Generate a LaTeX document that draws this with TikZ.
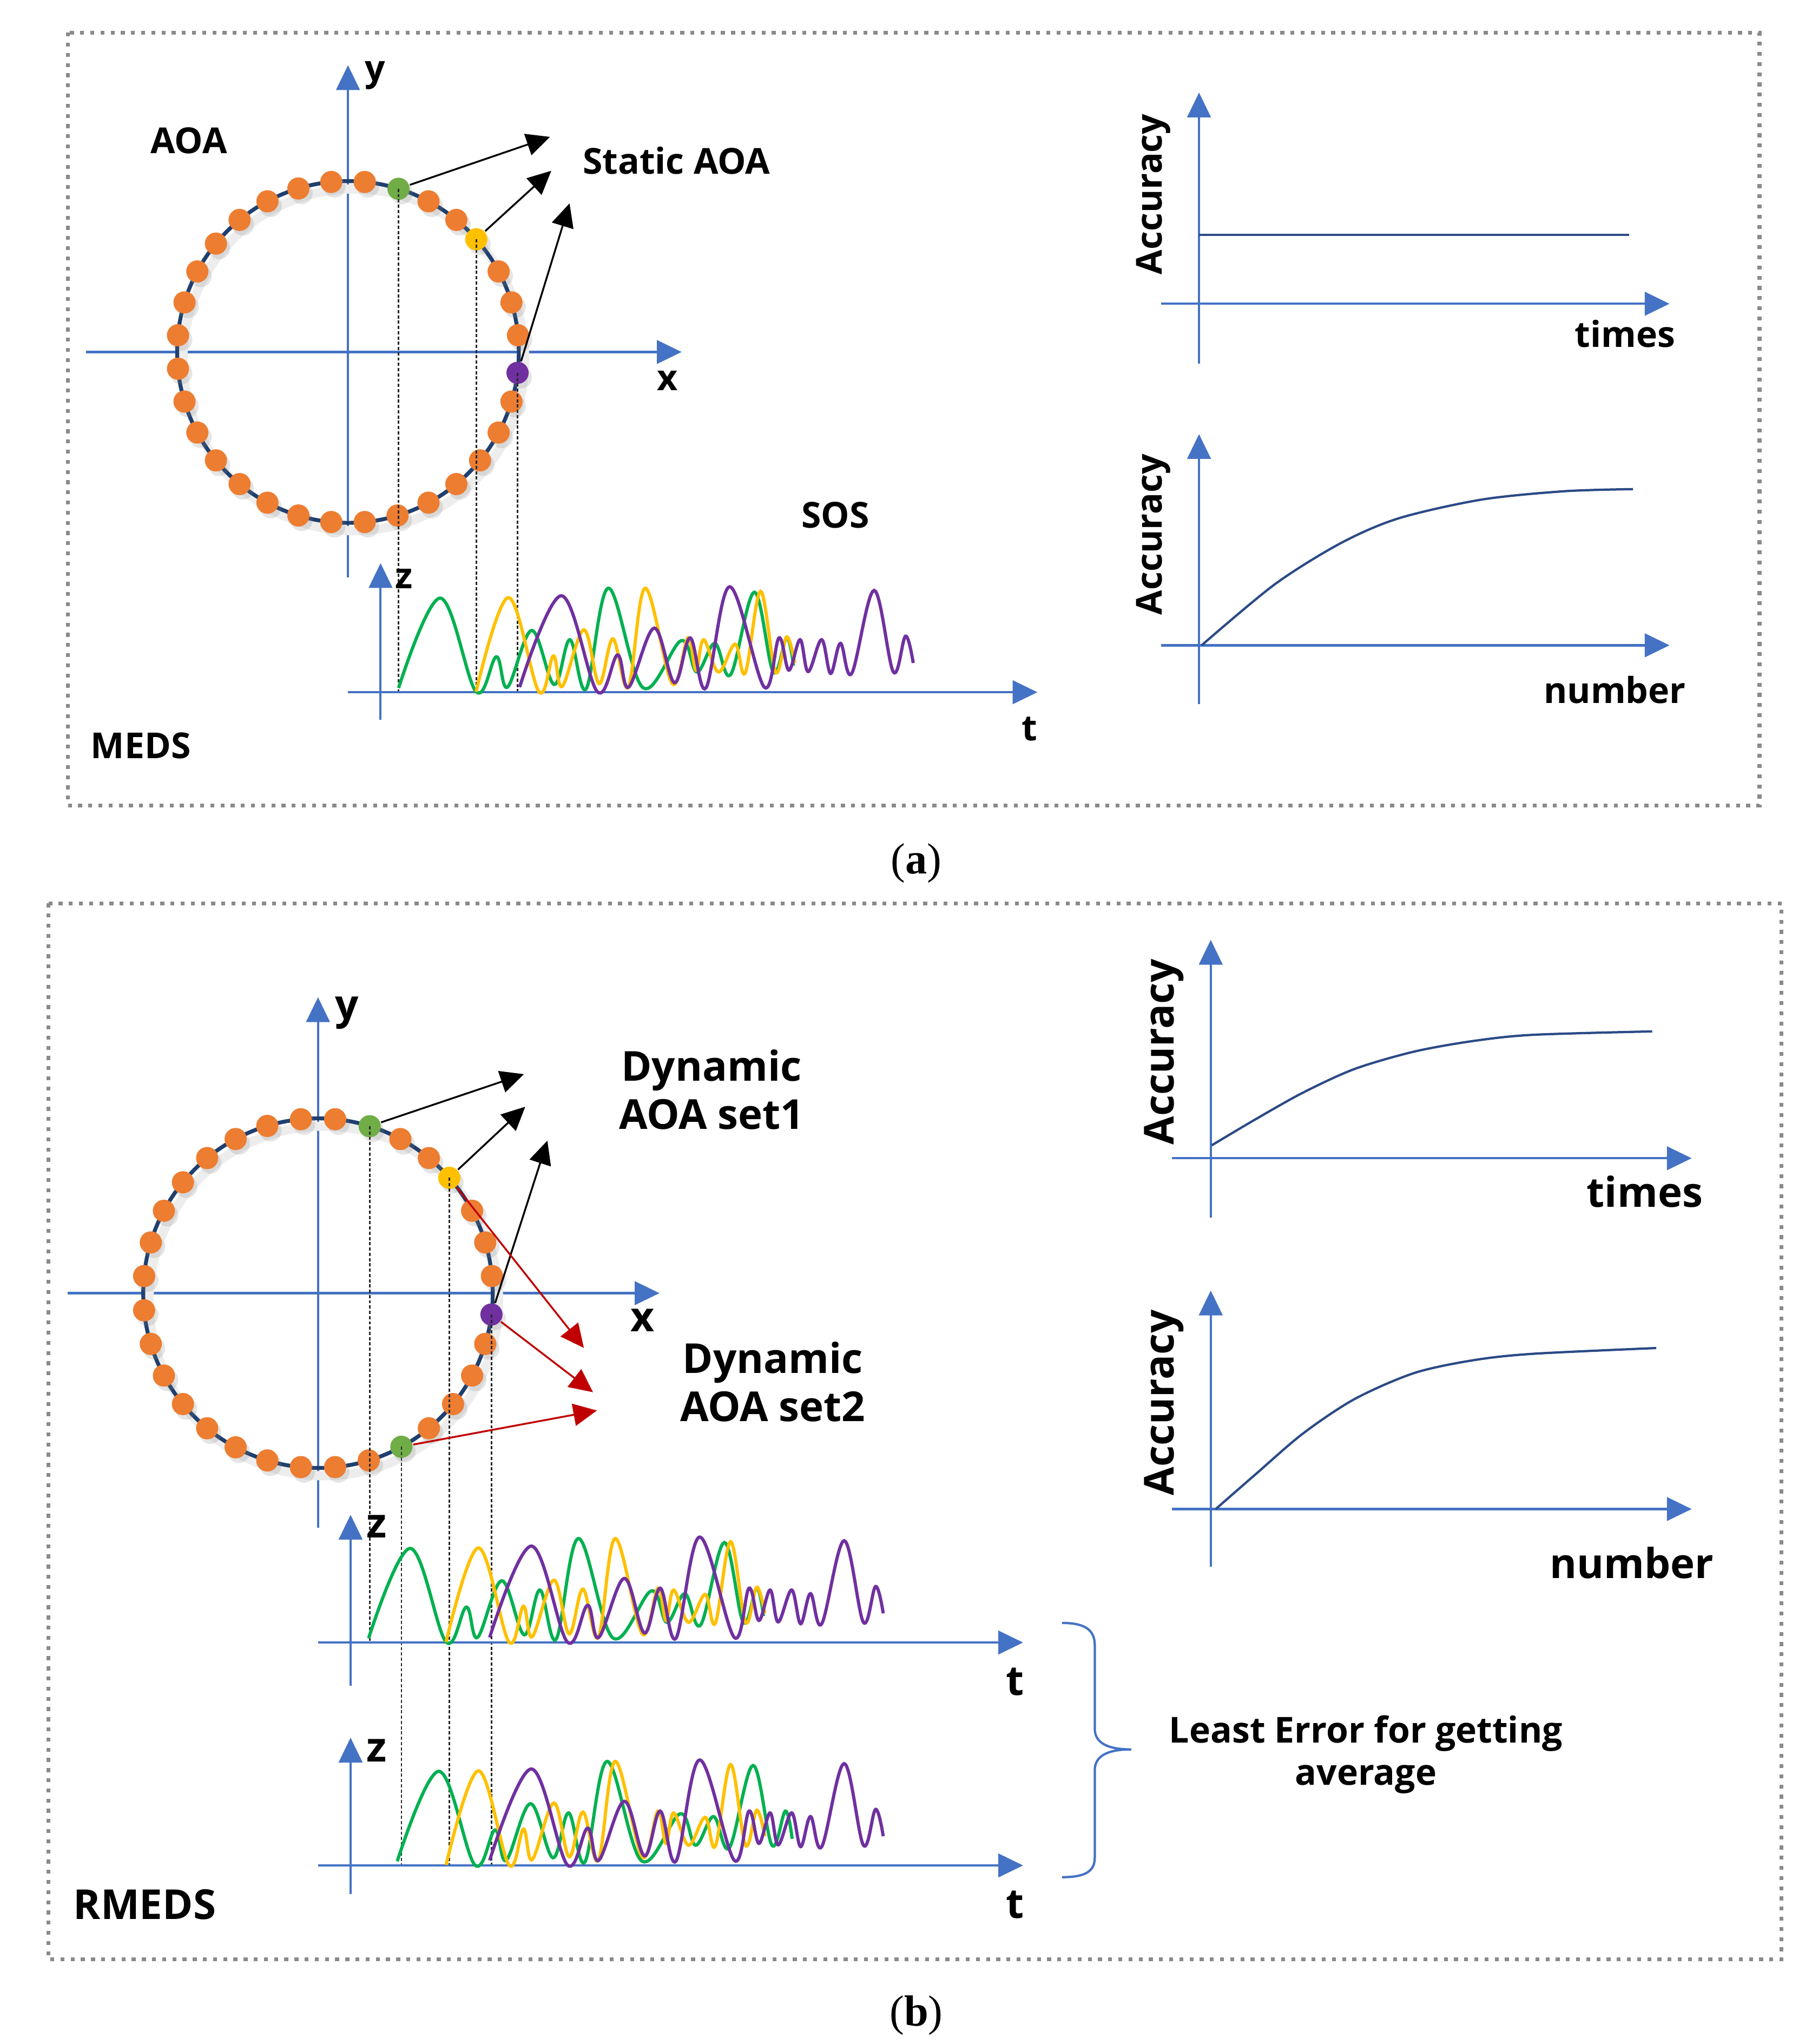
\documentclass[tikz,border=0pt]{standalone}
\usepackage{fontspec}
\setmainfont{Open Sans}
\newfontfamily\capfont{Liberation Serif}
\usetikzlibrary{arrows.meta,shadows}

\definecolor{axisblue}{HTML}{4472C4}
\definecolor{ringnavy}{HTML}{1F3F6E}
\definecolor{accnavy}{HTML}{2B4A86}
\definecolor{dotorange}{HTML}{ED7D31}
\definecolor{dotgreen}{HTML}{70AD47}
\definecolor{dotyellow}{HTML}{FFC000}
\definecolor{dotpurple}{HTML}{7030A0}
\definecolor{wgreen}{HTML}{00B050}
\definecolor{wyellow}{HTML}{FFC000}
\definecolor{wpurple}{HTML}{7030A0}
\definecolor{arrowred}{HTML}{C00000}
\definecolor{bordergray}{HTML}{8A8A8A}

\tikzset{
  axis/.style={draw=axisblue, line width=0.5pt, -{Triangle[length=1.9mm,width=1.8mm]}},
  ring/.style={draw=ringnavy, line width=0.85pt},
  ringshadow/.style={draw=black!7, line width=0.7mm},
  dot/.style={circle, inner sep=0pt, minimum size=1.7mm, draw=none,
    drop shadow={shadow xshift=0.25mm, shadow yshift=-0.35mm, opacity=0.2}},
  drop/.style={draw=black!85, line width=0.3pt, dash pattern=on 0.7pt off 0.45pt},
  aoaarrow/.style={draw=black, line width=0.4pt, -{Triangle[length=1.8mm,width=1.7mm]}},
  redarrow/.style={aoaarrow, draw=arrowred},
  wave/.style={line width=0.7pt},
  accline/.style={draw=accnavy, line width=0.5pt},
  panel/.style={draw=bordergray, line width=0.3mm, dash pattern=on 0.3mm off 0.48mm},
  lbl/.style={font=\bfseries\fontsize{7.8}{9}\selectfont, inner sep=0pt},
  lblb/.style={font=\bfseries\fontsize{9}{10.5}\selectfont, inner sep=0pt, align=center},
  subcap/.style={font=\capfont\fontsize{9.5}{11}\selectfont, inner sep=0pt},
  brace/.style={draw=axisblue, line width=0.5pt}
}

% ring of AOA dots: centre, radius, skipped dots, name prefix
\newcommand{\aoaring}[4]{%
  \draw[ringshadow] ([shift={(0.45mm,-0.6mm)}]#1) circle (#2);
  \draw[ring] (#1) circle (#2);
  \foreach \k in {0,...,31}{%
    \gdef\skipdot{0}%
    \foreach \s in {#3}{\ifnum\k=\s\relax\gdef\skipdot{1}\fi}%
    \ifnum\skipdot=0\relax
      \node[dot,fill=dotorange] (#4-\k) at ([shift={(5.625+11.25*\k:#2)}]#1) {};
    \fi}}

% three SOS waves: origin, shift of the green one
\newcommand{\soswaves}[2]{%
  \begin{scope}[shift={#1}]
    \draw[wave,wgreen,xshift=#2] plot[smooth,tension=.6] coordinates {
      (13.8,-3.2) (45.8,-72.2) (73.3,-0.4) (88.8,-27.2) (97.4,-3.9) (116,-47.4)
      (133.2,-5.9) (145.3,-40.3) (157.7,-2.5) (174.9,-79.8) (201.4,-3.4)
      (230.7,-39.6) (242.7,-15.5) (256.5,-37.5) (268.6,-13.5) (286.8,-76.7)
      (301.3,-15.5) (311.6,-41.7) (316.8,-20.4)};
    \draw[wave,wyellow] plot[smooth,tension=.6] coordinates {
      (73.3,-0.4) (98.1,-72.6) (121.5,-0.4) (132.6,-27.9) (139.4,-4.5) (156,-47.9)
      (167.7,-6.6) (178.3,-41) (190.1,-3.9) (203.1,-79.8) (223.8,-6.6)
      (235.8,-41.7) (242,-16.9) (247.9,-40.3) (259.3,-15.5) (272,-36.9)
      (279.9,-14.9) (291.6,-77.4) (303,-15.5) (311.6,-42.4) (317.8,-22.4)};
    \draw[wave,wpurple] plot[smooth,tension=.6] coordinates {
      (106.7,-3.9) (138.8,-74) (166.3,-0.4) (181.8,-28.6) (190.4,-3.9) (210,-49.2)
      (225.5,-7.3) (237.6,-41.7) (249.6,-3.2) (267.9,-80.9) (294.4,-3.9)
      (305.7,-41.7) (313.3,-16.9) (321.9,-40.3) (328.1,-15.8) (338.4,-40.3)
      (345.3,-14.4) (352.9,-37.5) (361.5,-14.4) (378.7,-78.1) (393.5,-15.5)
      (402.8,-43) (408.7,-22.4)};
  \end{scope}}

\begin{document}
\begin{tikzpicture}[x=0.01cm, y=-0.01cm]
  \fill[white] (0,0) rectangle (1390,1568);
  \useasboundingbox (0,0) rectangle (1390,1568);

  %%%%% (a) MEDS %%%%%
  \draw[panel] (52,25) rectangle (1350,618);
  \node[subcap] (capa) at (703,662) {(\textbf{a})};

  % AOA circle
  \coordinate (c1) at (267,270);
  \coordinate (o1) at (292,531);
  \draw[axis] (267,443) -- (267,50);
  \draw[axis] (66,270) -- (523,270);
  \node[lbl] (ya) at (288,58) {y};
  \node[lbl] (xa) at (512,292) {x};
  \aoaring{c1}{13.1mm}{3,6,31}{a}
  \node[dot,fill=dotgreen] (ag) at ([shift={(72.8:13.1mm)}]c1) {};
  \node[dot,fill=dotyellow] (ay) at ([shift={(41.3:13.1mm)}]c1) {};
  \node[dot,fill=dotpurple] (ap) at ([shift={(-7:13.1mm)}]c1) {};
  \draw[drop] (ag.center) -- (ag.center |- o1);
  \draw[drop] (ay.center) -- (ay.center |- o1);
  \draw[drop] (ap.center) -- (ap.center |- o1);

  \coordinate (agtip) at (422,105);
  \coordinate (aytip) at (423,131);
  \coordinate (aptip) at (437,156);
  \draw[aoaarrow] (ag) -- (agtip);
  \draw[aoaarrow] (ay) -- (aytip);
  \draw[aoaarrow] (ap) -- (aptip);
  \node[lbl] (aoa) at (145,108) {AOA};
  \node[lbl] (static) at (519,123) {Static AOA};

  % SOS
  \draw[axis] (267,531) -- (796,531);
  \draw[axis] (292,552) -- (292,432);
  \node[lbl] (za) at (310,444) {z};
  \node[lbl] (ta) at (790,559) {t};
  \soswaves{(o1)}{0mm}
  \node[lbl] (sos) at (641,395) {SOS};
  \node[lbl] (meds) at (108,572) {MEDS};

  % accuracy over times
  \draw[axis] (920,279) -- (920,71);
  \draw[axis] (891,233) -- (1281,233);
  \draw[accline] (920,180) -- (1250,180);
  \node[lbl,rotate=90] (acca1) at (885,149) {Accuracy};
  \node[lbl] (timesa) at (1247,256) {times};

  % accuracy over number
  \draw[axis] (920,540) -- (920,333);
  \draw[axis] (891,495) -- (1281,495);
  \draw[accline] plot[smooth] coordinates {(922,495) (978,448.3) (1029,416.5)
    (1073.5,397.5) (1137,383.2) (1200.6,376.8) (1253,375.2)};
  \node[lbl,rotate=90] (acca2) at (885,410) {Accuracy};
  \node[lbl] (numbera) at (1239,529) {number};

  %%%%% (b) RMEDS %%%%%
  \draw[panel] (37,693) rectangle (1367,1503);
  \node[subcap] (capb) at (703,1546) {(\textbf{b})};

  % AOA circle
  \coordinate (c2) at (244,992);
  \coordinate (o2) at (269,1260);
  \coordinate (o3) at (269,1431);
  \draw[axis] (244,1172) -- (244,765);
  \draw[axis] (52,992) -- (506,992);
  \node[lblb] (yb) at (266,777) {y};
  \node[lblb] (xb) at (493,1013) {x};
  \aoaring{c2}{13.4mm}{3,6,26,31}{b}
  \node[dot,fill=dotgreen] (bg) at ([shift={(72.8:13.4mm)}]c2) {};
  \node[dot,fill=dotyellow] (by) at ([shift={(41.3:13.4mm)}]c2) {};
  \node[dot,fill=dotpurple] (bp) at ([shift={(-7:13.4mm)}]c2) {};
  \node[dot,fill=dotgreen] (bl) at ([shift={(-61.5:13.4mm)}]c2) {};
  \draw[drop] (bg.center) -- (bg.center |- o2);
  \draw[drop] (by.center) -- (by.center |- o3);
  \draw[drop] (bp.center) -- (bp.center |- o3);
  \draw[drop] (bl.center) -- (bl.center |- o3);

  \coordinate (bgtip) at (402,824);
  \coordinate (bytip) at (403,849);
  \coordinate (bptip) at (420,875);
  \draw[aoaarrow] (bg) -- (bgtip);
  \draw[aoaarrow] (by) -- (bytip);
  \draw[aoaarrow] (bp) -- (bptip);
  \coordinate (byred) at (448,1034);
  \coordinate (bpred) at (455,1068);
  \coordinate (blred) at (458,1082);
  \draw[redarrow] (by) -- (byred);
  \draw[redarrow] (bp) -- (bpred);
  \draw[redarrow] (bl) -- (blred);
  \node[lblb] (dyn1) at (546,836) {Dynamic\\AOA set1};
  \node[lblb] (dyn2) at (593,1060) {Dynamic\\AOA set2};

  % SOS, two runs
  \draw[axis] (244,1260) -- (785,1260);
  \draw[axis] (269,1293) -- (269,1162);
  \node[lblb] (zb1) at (289,1171) {z};
  \node[lblb] (tb1) at (779,1290) {t};
  \soswaves{(o2)}{0mm}
  \draw[axis] (244,1431) -- (785,1431);
  \draw[axis] (269,1453) -- (269,1333);
  \node[lblb] (zb2) at (289,1343) {z};
  \node[lblb] (tb2) at (779,1461) {t};
  \soswaves{(o3)}{2.2mm}
  \node[lblb] (rmeds) at (111,1461) {RMEDS};

  % brace and average
  \draw[brace] (815,1245) .. controls (832,1245) and (840,1250) .. (840,1262)
    -- (840,1326) .. controls (840,1336) and (848,1342) .. (868,1342)
    .. controls (848,1342) and (840,1348) .. (840,1358)
    -- (840,1425) .. controls (840,1436) and (832,1440) .. (815,1440);
  \node[lblb,font=\bfseries\fontsize{7.8}{9.2}\selectfont] (least) at (1048,1346)
    {Least Error for getting\\average};

  % accuracy over times
  \draw[axis] (929,934) -- (929,721);
  \draw[axis] (899,888.5) -- (1298,888.5);
  \draw[accline] plot[smooth] coordinates {(929.7,878.6) (963.2,858.7) (999.7,838.2)
    (1039.4,820) (1085,806.7) (1130.7,798.5) (1176.4,793.8) (1267.7,791.2)};
  \node[lblb,rotate=90] (accb1) at (893,807) {Accuracy};
  \node[lblb] (timesb) at (1262,914) {times};

  % accuracy over number
  \draw[axis] (929,1202) -- (929,990);
  \draw[axis] (899,1157.6) -- (1298,1157.6);
  \draw[accline] plot[smooth] coordinates {(932.8,1157.6) (963.2,1131.1) (999.7,1099.7)
    (1039.4,1073.2) (1085,1053.3) (1130.7,1043.4) (1176.4,1038.5) (1270.8,1034.1)};
  \node[lblb,rotate=90] (accb2) at (893,1076) {Accuracy};
  \node[lblb] (numberb) at (1252,1199) {number};
\end{tikzpicture}
\end{document}
